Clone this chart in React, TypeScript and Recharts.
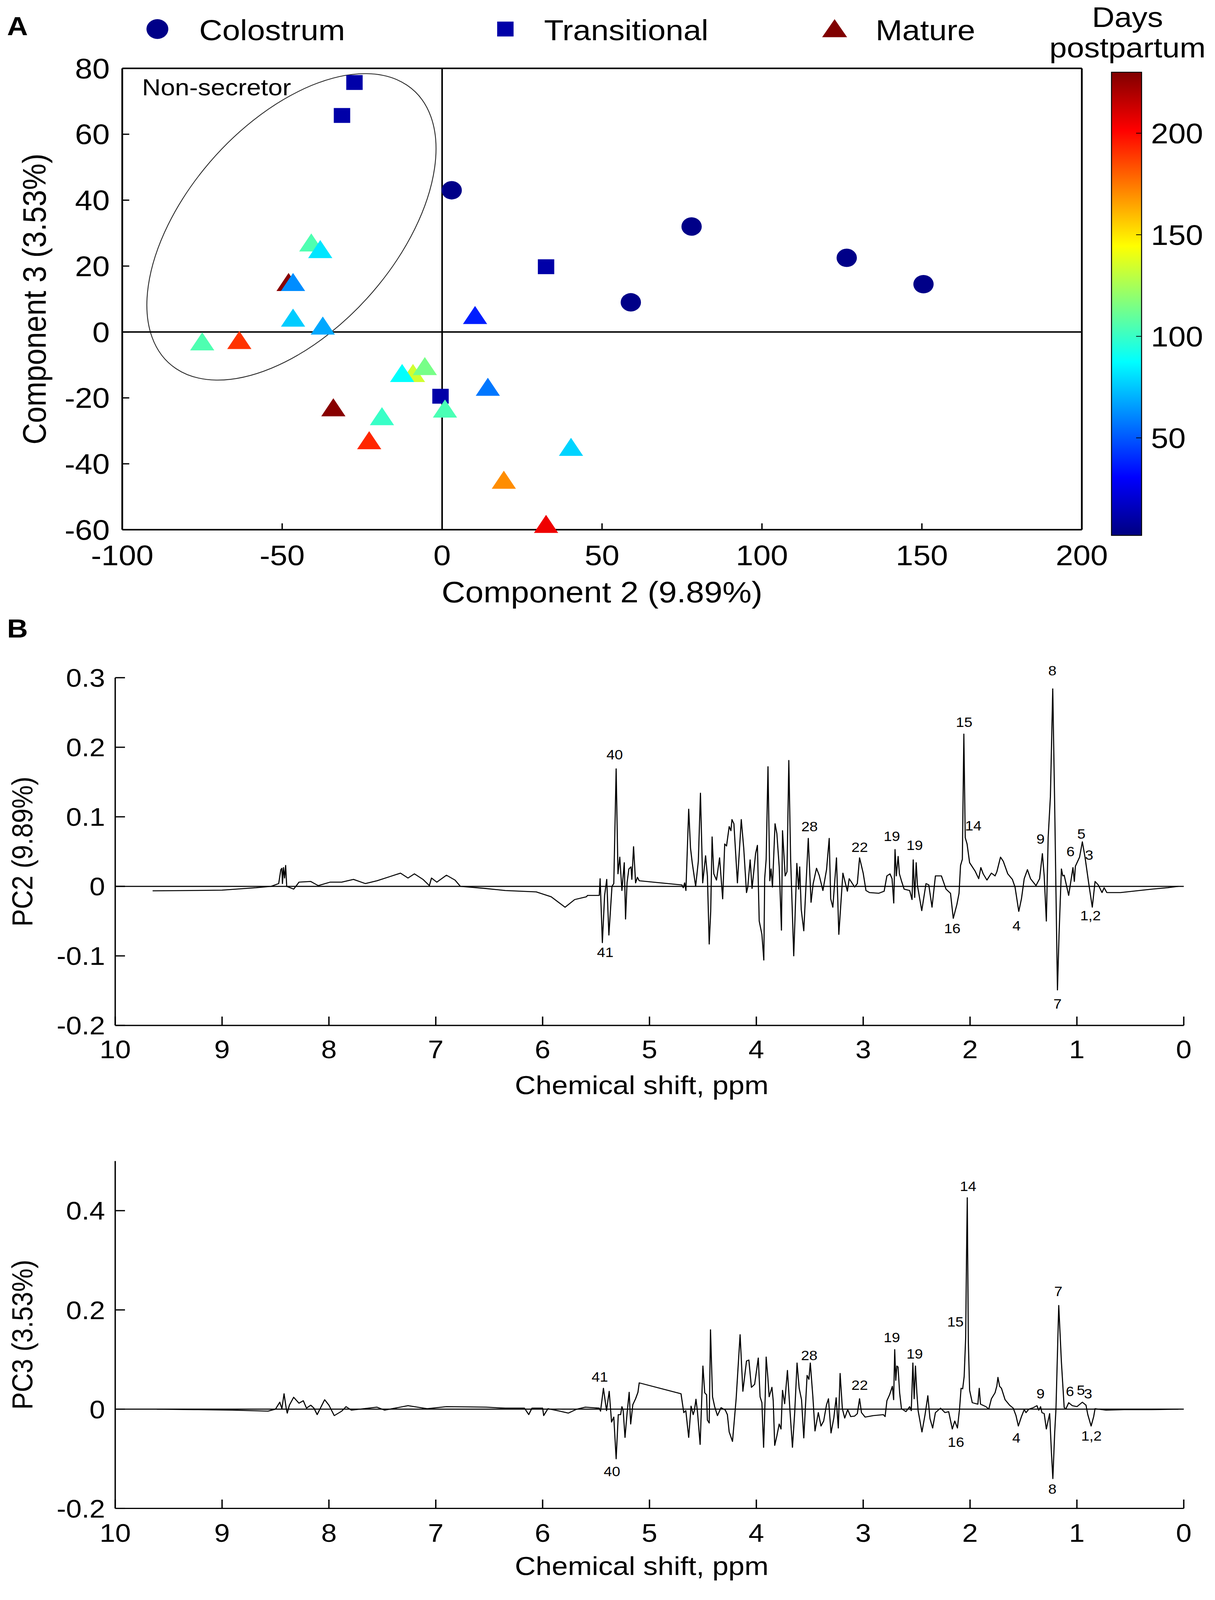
import React from 'react';
import {
  ScatterChart,
  Scatter,
  LineChart,
  Line,
  ComposedChart,
  XAxis,
  YAxis,
  ReferenceLine,
  ReferenceArea,
  ReferenceDot,
} from 'recharts';

const FONT = '"Liberation Sans", Arial, Helvetica, sans-serif';

// the photographed viewport is shorter than the figure, so the figure is squeezed to fit
const FIG_W = 3111;
const FIG_H = 4479;
const VIEW_H = 4060;

// ---- Panel A: PCA scores (component 2 vs component 3) ----
const colostrumPc2 = [3, 59, 78, 126.5, 150.5];
const colostrumPc3 = [43, 9, 32, 22.5, 14.5];
const colostrumDays = [4, 4, 4, 4, 4];

const transitionalPc2 = [-27.4, -31.3, 32.5, -0.5];
const transitionalPc3 = [75.7, 65.7, 19.8, -19.5];
const transitionalDays = [11, 11, 11, 11];

const maturePc2 = [-40.9, -38.1, -48, -46.6, -46.6, -37.3, -75, -63.4, 10.3, -9.1, -5.4, -12.5, 14.3, -34, -18.8, 0.9, -22.8, 40.3, 19.3, 32.5];
const maturePc3 = [27, 25, 15, 15, 4.2, 1.8, -3, -2.6, 5, -12.6, -10.5, -12.6, -16.8, -23, -25.7, -23.4, -33, -35, -45, -58.4];
const matureDays = [105, 82, 228, 62, 76, 68, 105, 190, 37, 134, 114, 88, 57, 228, 100, 104, 193, 78, 170, 205];

const DAY_MIN = 2;
const DAY_MAX = 230;
const colorbarTicks = [50, 100, 150, 200];

const pc2Ticks = [-100, -50, 0, 50, 100, 150, 200];
const pc3Ticks = [-60, -40, -20, 0, 20, 40, 60, 80];

// non-secretor ellipse: bounding box in score units and tangent offset ratio
const ellipseX = [-92.3, -1.9];
const ellipseY = [-14.6, 78.4];
const ELLIPSE_TANGENT = 0.51;

// ---- Panel B: loadings ----
const ppmTicks = [0, 1, 2, 3, 4, 5, 6, 7, 8, 9, 10];

const pc2Ppm = [
  9.65, 9.3, 9.0, 8.68, 8.54, 8.47, 8.45, 8.44, 8.435, 8.425, 8.415, 8.405, 8.395, 8.33, 8.28, 8.17, 8.1, 7.99, 7.88, 7.77,
  7.66, 7.55, 7.43, 7.33, 7.26, 7.2, 7.12, 7.06, 7.04, 6.99, 6.9, 6.82, 6.77, 6.54, 6.35, 6.06, 5.92, 5.79, 5.7, 5.59,
  5.58, 5.47, 5.462, 5.441, 5.42, 5.4, 5.38, 5.351, 5.334, 5.312, 5.295, 5.278, 5.258, 5.236, 5.224, 5.21, 5.193, 5.173, 5.165, 5.149,
  5.13, 5.113, 5.096, 4.696, 4.684, 4.671, 4.659, 4.633, 4.616, 4.6, 4.568, 4.543, 4.523, 4.502, 4.475, 4.458, 4.441, 4.427, 4.414, 4.398,
  4.373, 4.344, 4.315, 4.296, 4.279, 4.254, 4.238, 4.228, 4.21, 4.177, 4.141, 4.118, 4.092, 4.08, 4.058, 4.04, 4.007, 3.99, 3.973, 3.948,
  3.93, 3.922, 3.908, 3.891, 3.874, 3.862, 3.849, 3.825, 3.808, 3.786, 3.765, 3.755, 3.73, 3.713, 3.696, 3.679, 3.65, 3.621, 3.604, 3.594,
  3.58, 3.556, 3.514, 3.488, 3.468, 3.437, 3.412, 3.377, 3.343, 3.318, 3.304, 3.284, 3.25, 3.228, 3.19, 3.148, 3.131, 3.08, 3.055, 3.034,
  3.0, 2.974, 2.94, 2.855, 2.804, 2.778, 2.749, 2.73, 2.714, 2.702, 2.69, 2.673, 2.661, 2.642, 2.617, 2.565, 2.543, 2.532, 2.518, 2.504,
  2.492, 2.452, 2.412, 2.386, 2.356, 2.324, 2.268, 2.225, 2.183, 2.157, 2.123, 2.103, 2.089, 2.072, 2.058, 2.045, 2.028, 2.004, 1.953, 1.919,
  1.899, 1.877, 1.842, 1.8, 1.766, 1.749, 1.715, 1.689, 1.647, 1.604, 1.579, 1.544, 1.519, 1.493, 1.463, 1.434, 1.383, 1.349, 1.323, 1.306,
  1.286, 1.269, 1.248, 1.226, 1.208, 1.196, 1.182, 1.167, 1.145, 1.132, 1.119, 1.077, 1.037, 1.024, 1.014, 0.975, 0.949, 0.924, 0.89, 0.856,
  0.83, 0.8, 0.765, 0.745, 0.72, 0.592, 0.442, 0.3, 0.15, 0.05,
];
const pc2Loading = [
  -0.0064, -0.006, -0.0055, -0.002, 0, 0.004, 0.024, 0.026, 0.004, 0.027, 0.012, 0.03, 0.0, -0.004, 0.006, 0.007, 0.001, 0.006, 0.006, 0.01,
  0.004, 0.008, 0.014, 0.019, 0.012, 0.018, 0.01, 0.001, 0.012, 0.006, 0.016, 0.009, 0.0, -0.003, -0.006, -0.008, -0.015, -0.03, -0.019, -0.015,
  -0.013, -0.013, 0.011, -0.081, -0.013, 0.01, -0.07, 0.0, 0.004, 0.169, 0.018, 0.042, -0.006, 0.034, -0.047, 0.005, 0.025, 0.028, 0.01, 0.057,
  0.005, 0.013, 0.008, 0.002, -0.002, 0.005, -0.006, 0.111, 0.055, 0.034, 0.0, 0.036, 0.134, 0.005, 0.044, 0.015, -0.083, -0.036, 0.071, 0.018,
  0.009, 0.041, -0.018, 0.061, 0.058, 0.086, 0.08, 0.096, 0.09, 0.005, 0.096, 0.055, -0.009, -0.001, 0.038, -0.003, 0.047, 0.059, -0.05, -0.069,
  -0.106, 0.011, 0.039, 0.172, 0.008, 0.025, -0.001, 0.09, 0.076, 0.028, -0.063, 0.08, 0.015, 0.021, 0.181, 0.039, -0.1, 0.033, -0.004, 0.028,
  -0.033, -0.064, 0.069, -0.023, 0.004, 0.026, 0.016, -0.006, 0.024, 0.069, -0.018, -0.03, 0.041, -0.069, 0.019, -0.007, 0.011, -0.001, 0.004, 0.041,
  0.019, -0.006, -0.009, -0.01, -0.007, 0.015, 0.018, 0.011, -0.024, 0.053, 0.015, 0.043, 0.018, 0.008, -0.004, -0.006, -0.019, 0.038, -0.016, 0.034,
  0.001, -0.035, 0.004, 0.002, -0.03, 0.015, 0.015, -0.004, -0.01, -0.046, -0.026, -0.01, 0.03, 0.039, 0.219, 0.07, 0.061, 0.034, 0.022, 0.011,
  0.027, 0.018, 0.009, 0.019, 0.015, 0.021, 0.042, 0.036, 0.018, 0.01, -0.001, -0.036, -0.018, 0.011, 0.024, 0.011, 0.001, 0.011, 0.047, 0.015,
  -0.05, 0.07, 0.129, 0.284, 0.117, -0.007, -0.149, -0.069, 0.025, 0.015, 0.016, -0.013, 0.027, 0.007, 0.029, 0.042, 0.064, 0.042, 0.005, -0.03,
  0.007, 0.002, -0.009, -0.002, -0.009, -0.009, -0.0065, -0.004, -0.002, 0.0,
];

const pc3Ppm = [
  9.61, 9.26, 8.9, 8.57, 8.5, 8.46, 8.44, 8.42, 8.4, 8.39, 8.37, 8.33, 8.28, 8.24, 8.21, 8.17, 8.14, 8.11, 8.04, 8.0,
  7.95, 7.88, 7.84, 7.79, 7.55, 7.48, 7.26, 7.08, 6.9, 6.53, 6.35, 6.17, 6.13, 6.1, 6.0, 5.99, 5.95, 5.84, 5.76, 5.68,
  5.6, 5.47, 5.458, 5.431, 5.402, 5.377, 5.355, 5.334, 5.312, 5.292, 5.27, 5.258, 5.246, 5.229, 5.21, 5.19, 5.176, 5.156, 5.13, 5.108,
  5.096, 4.705, 4.679, 4.66, 4.633, 4.611, 4.591, 4.58, 4.565, 4.551, 4.526, 4.5, 4.483, 4.466, 4.458, 4.441, 4.429, 4.41, 4.39, 4.364,
  4.33, 4.29, 4.271, 4.254, 4.223, 4.189, 4.152, 4.126, 4.092, 4.07, 4.046, 4.016, 3.982, 3.965, 3.948, 3.932, 3.917, 3.908, 3.893, 3.88,
  3.854, 3.842, 3.828, 3.808, 3.786, 3.769, 3.755, 3.735, 3.709, 3.684, 3.662, 3.641, 3.619, 3.599, 3.577, 3.556, 3.525, 3.508, 3.495, 3.471,
  3.451, 3.42, 3.395, 3.37, 3.343, 3.325, 3.301, 3.275, 3.253, 3.233, 3.216, 3.195, 3.173, 3.145, 3.117, 3.08, 3.055, 3.034, 3.016, 2.982,
  2.906, 2.812, 2.795, 2.778, 2.753, 2.727, 2.715, 2.705, 2.695, 2.685, 2.674, 2.659, 2.642, 2.6, 2.565, 2.55, 2.535, 2.523, 2.511, 2.498,
  2.486, 2.45, 2.421, 2.395, 2.375, 2.35, 2.324, 2.276, 2.234, 2.2, 2.166, 2.143, 2.118, 2.098, 2.084, 2.069, 2.055, 2.041, 2.033, 2.026,
  2.016, 2.004, 1.979, 1.927, 1.914, 1.902, 1.851, 1.825, 1.8, 1.766, 1.749, 1.739, 1.723, 1.706, 1.672, 1.63, 1.596, 1.57, 1.548, 1.519,
  1.493, 1.476, 1.45, 1.408, 1.374, 1.357, 1.34, 1.327, 1.306, 1.286, 1.255, 1.238, 1.225, 1.208, 1.196, 1.17, 1.145, 1.119, 1.102, 1.077,
  1.043, 1.0, 0.949, 0.915, 0.898, 0.867, 0.843, 0.83, 0.728, 0.558, 0.3, 0.05,
];
const pc3Loading = [
  0, -0.001, -0.002, -0.004, 0.0, 0.014, 0.001, 0.031, 0.002, -0.008, 0.008, 0.024, 0.012, 0.017, 0.002, 0.008, 0.002, -0.011, 0.019, 0.008,
  -0.013, -0.004, 0.005, -0.002, 0.004, -0.002, 0.007, 0.001, 0.005, 0.004, 0.002, 0.002, -0.011, 0.002, 0.002, -0.013, 0.001, -0.004, -0.008, 0.0,
  0.004, 0.002, -0.004, 0.042, -0.003, 0.036, -0.026, -0.016, -0.1, -0.011, -0.011, 0.005, -0.003, -0.057, -0.009, 0.034, -0.03, 0.009, 0.021, 0.034,
  0.053, 0.031, -0.007, -0.003, -0.057, 0.006, -0.011, -0.003, 0.02, -0.005, -0.071, 0.087, 0.033, 0.029, -0.022, -0.028, 0.16, 0.025, 0.005, -0.013,
  0.003, -0.002, -0.011, -0.046, -0.065, 0.021, 0.15, 0.036, 0.097, 0.099, 0.044, 0.05, 0.103, 0.025, 0.013, -0.077, 0.025, 0.105, 0.066, 0.025,
  0.044, 0.017, -0.073, -0.054, -0.03, -0.04, 0.038, 0.011, 0.078, -0.007, -0.077, -0.007, 0.093, 0.042, 0.019, -0.058, 0.068, 0.06, 0.093, 0.025,
  -0.044, -0.007, -0.034, -0.024, 0.009, 0.021, -0.048, -0.018, 0.023, -0.038, 0.072, 0.001, -0.018, -0.001, -0.015, -0.014, -0.009, 0.021, -0.007, -0.016,
  -0.013, -0.011, -0.015, 0.017, 0.029, 0.046, 0.019, 0.12, 0.058, 0.087, 0.085, 0.033, 0.001, -0.005, 0.005, -0.003, 0.093, 0.021, 0.087, 0.034,
  -0.003, -0.046, -0.011, 0.027, -0.019, -0.038, -0.007, 0.002, -0.007, -0.005, -0.04, -0.024, -0.038, 0.001, 0.042, 0.041, 0.066, 0.144, 0.307, 0.426,
  0.136, 0.038, 0.013, 0.01, 0.042, 0.01, 0.005, 0.0, 0.021, 0.033, 0.047, 0.064, 0.046, 0.042, 0.019, 0.008, 0.002, -0.013, -0.034, -0.015,
  -0.001, -0.007, 0.0, 0.003, 0.007, -0.002, 0.005, -0.007, -0.009, -0.04, -0.009, -0.089, -0.14, -0.048, 0.0, 0.209, 0.095, 0.003, 0.001, 0.013,
  0.007, 0.005, 0.014, 0.008, -0.011, -0.034, -0.015, 0.001, -0.002, -0.001, -0.001, 0.0,
];

// peak assignments (number and where the label sits)
const pc2PeakText = ['40', '41', '28', '22', '19', '19', '15', '14', '16', '9', '8', '7', '4', '6', '5', '3', '1,2'];
const pc2PeakPpm = [5.326, 5.414, 3.502, 3.033, 2.732, 2.518, 2.055, 1.97, 2.166, 1.34, 1.23, 1.181, 1.565, 1.06, 0.958, 0.885, 0.873];
const pc2PeakVal = [0.189, -0.095, 0.086, 0.056, 0.072, 0.059, 0.236, 0.087, -0.061, 0.068, 0.31, -0.169, -0.057, 0.05, 0.075, 0.045, -0.042];

const pc3PeakText = ['41', '40', '28', '22', '19', '19', '15', '14', '16', '4', '9', '8', '7', '6', '5', '3', '1,2'];
const pc3PeakPpm = [5.465, 5.351, 3.505, 3.033, 2.732, 2.518, 2.137, 2.018, 2.132, 1.567, 1.34, 1.23, 1.174, 1.065, 0.963, 0.895, 0.864];
const pc3PeakVal = [0.065, -0.126, 0.108, 0.048, 0.144, 0.111, 0.176, 0.449, -0.067, -0.058, 0.031, -0.161, 0.237, 0.036, 0.038, 0.031, -0.054];

// MATLAB jet colormap
function jet(t: number) {
  const c = (v: number) => Math.round(255 * Math.max(0, Math.min(1, v)));
  const r = c(Math.min(4 * t - 1.5, -4 * t + 4.5));
  const g = c(Math.min(4 * t - 0.5, -4 * t + 3.5));
  const b = c(Math.min(4 * t + 0.5, -4 * t + 2.5));
  return `rgb(${r},${g},${b})`;
}
const dayColor = (d: number) => jet((d - DAY_MIN) / (DAY_MAX - DAY_MIN));

const toPoints = (xs: number[], ys: number[], days: number[]) =>
  xs.map((x, i) => ({ x, y: ys[i], days: days[i] }));

const colostrumData = toPoints(colostrumPc2, colostrumPc3, colostrumDays);
const transitionalData = toPoints(transitionalPc2, transitionalPc3, transitionalDays);
const matureData = toPoints(maturePc2, maturePc3, matureDays);

const pc2Data = pc2Ppm.map((ppm, i) => ({ ppm, loading: pc2Loading[i] }));
const pc3Data = pc3Ppm.map((ppm, i) => ({ ppm, loading: pc3Loading[i] }));

const CircleMark = (p: any) => <circle cx={p.cx} cy={p.cy} r={26} fill={dayColor(p.payload.days)} />;
const SquareMark = (p: any) => (
  <rect x={p.cx - 21} y={p.cy - 21} width={42} height={42} fill={dayColor(p.payload.days)} />
);
const TriangleMark = (p: any) => (
  <polygon
    points={`${p.cx},${p.cy - 27} ${p.cx - 31},${p.cy + 24} ${p.cx + 31},${p.cy + 24}`}
    fill={dayColor(p.payload.days)}
  />
);

// rotated ellipse fitted inside the reference area box
const EllipseShape = (p: any) => {
  const W = Math.abs(p.width) / 2;
  const H = Math.abs(p.height) / 2;
  const cx = p.x + W;
  const cy = p.y + H;
  const q = -ELLIPSE_TANGENT * W * H;
  const P = W * W;
  const R = H * H;
  const disc = Math.sqrt(((P - R) / 2) ** 2 + q * q);
  const a = Math.sqrt((P + R) / 2 + disc);
  const b = Math.sqrt((P + R) / 2 - disc);
  const ang = (0.5 * Math.atan2(2 * q, P - R) * 180) / Math.PI;
  return (
    <ellipse cx={cx} cy={cy} rx={a} ry={b} transform={`rotate(${ang} ${cx} ${cy})`} fill="none" stroke="#222" strokeWidth={2.2} />
  );
};

const axisLine = { stroke: '#000', strokeWidth: 4.5 };
const tickLine = { stroke: '#000', strokeWidth: 3.5 };

function ScorePlot() {
  return (
    <ScatterChart width={3111} height={1750} margin={{ top: 0, right: 0, bottom: 0, left: 0 }}>
      <XAxis
        type="number"
        dataKey="x"
        domain={[-100, 200]}
        ticks={pc2Ticks}
        height={254}
        tickSize={-18}
        tickMargin={62}
        axisLine={axisLine}
        tickLine={tickLine}
        tick={{ fontSize: 80, fill: '#000' }}
        label={{ value: 'Component 2 (9.89%)', position: 'insideTop', offset: 146, fontSize: 84, fill: '#000' }}
      />
      <XAxis
        xAxisId="top"
        orientation="top"
        type="number"
        dataKey="x"
        domain={[-100, 200]}
        ticks={pc2Ticks}
        height={193}
        tickSize={-18}
        tick={false}
        axisLine={axisLine}
        tickLine={tickLine}
      />
      <YAxis
        type="number"
        dataKey="y"
        domain={[-60, 80]}
        ticks={pc3Ticks}
        width={313}
        tickSize={-18}
        tickMargin={50}
        axisLine={axisLine}
        tickLine={tickLine}
        tick={{ fontSize: 80, fill: '#000' }}
        label={{
          value: 'Component 3 (3.53%)',
          angle: -90,
          position: 'insideLeft',
          offset: 87,
          fontSize: 84,
          fill: '#000',
          style: { textAnchor: 'middle' },
        }}
      />
      <YAxis
        yAxisId="right"
        orientation="right"
        type="number"
        dataKey="y"
        domain={[-60, 80]}
        ticks={pc3Ticks}
        width={341}
        tickSize={-18}
        tick={false}
        axisLine={axisLine}
        tickLine={tickLine}
      />
      <ReferenceLine x={0} stroke="#000" strokeWidth={4} />
      <ReferenceLine y={0} stroke="#000" strokeWidth={4} />
      <ReferenceArea x1={ellipseX[0]} x2={ellipseX[1]} y1={ellipseY[0]} y2={ellipseY[1]} shape={EllipseShape} />
      <ReferenceDot
        x={-93.8}
        y={71.8}
        ifOverflow="visible"
        shape={(p: any) => (
          <text x={p.cx} y={p.cy} fontSize={66} fill="#000">
            Non-secretor
          </text>
        )}
      />
      {/* same domains on both axis pairs, so the colostrum series also drives the box axes */}
      <Scatter
        name="Colostrum"
        xAxisId="top"
        yAxisId="right"
        data={colostrumData}
        shape={CircleMark}
        isAnimationActive={false}
      />
      <Scatter name="Transitional" data={transitionalData} shape={SquareMark} isAnimationActive={false} />
      <Scatter name="Mature" data={matureData} shape={TriangleMark} isAnimationActive={false} />
    </ScatterChart>
  );
}

const jetStops = [0, 0.125, 0.375, 0.625, 0.875, 1];
const barTickLine = { stroke: '#000', strokeWidth: 2 };

function ColorBar() {
  const data = [
    { x: 0, d: DAY_MIN },
    { x: 1, d: DAY_MAX },
  ];
  return (
    <ComposedChart width={300} height={1700} data={data} margin={{ top: 204, right: 0, bottom: 188, left: 0 }}>
      <defs>
        <linearGradient id="jetBar" x1="0" y1="1" x2="0" y2="0">
          {jetStops.map((t) => (
            <stop key={t} offset={t} stopColor={jet(t)} />
          ))}
        </linearGradient>
      </defs>
      <XAxis hide type="number" dataKey="x" domain={[0, 1]} />
      <ReferenceArea x1={0} x2={1} y1={DAY_MIN} y2={DAY_MAX} fill="url(#jetBar)" fillOpacity={1} stroke="#000" strokeWidth={2.5} />
      <Line dataKey="d" stroke="none" dot={false} isAnimationActive={false} />
      <Line yAxisId="left" dataKey="d" stroke="none" dot={false} isAnimationActive={false} />
      <YAxis
        yAxisId="left"
        orientation="left"
        type="number"
        domain={[DAY_MIN, DAY_MAX]}
        ticks={colorbarTicks}
        width={46}
        tickSize={-14}
        tick={false}
        axisLine={false}
        tickLine={barTickLine}
      />
      <YAxis
        orientation="right"
        type="number"
        domain={[DAY_MIN, DAY_MAX]}
        ticks={colorbarTicks}
        width={177}
        tickSize={-14}
        tickMargin={38}
        axisLine={false}
        tickLine={barTickLine}
        tick={{ fontSize: 80, fill: '#000', textAnchor: 'start' }}
      />
    </ComposedChart>
  );
}

interface SpectrumProps {
  data: { ppm: number; loading: number }[];
  height: number;
  marginTop: number;
  xAxisHeight: number;
  domain: [number, number];
  ticks: number[];
  yLabel: string;
  xTickMargin: number;
  titleOffset: number;
  peakText: string[];
  peakPpm: number[];
  peakVal: number[];
}

function Spectrum(props: SpectrumProps) {
  return (
    <LineChart
      width={3111}
      height={props.height}
      data={props.data}
      margin={{ top: props.marginTop, right: 80, bottom: 0, left: 0 }}
    >
      <XAxis
        type="number"
        dataKey="ppm"
        domain={[0, 10]}
        reversed
        ticks={ppmTicks}
        height={props.xAxisHeight}
        tickSize={-25}
        tickMargin={props.xTickMargin}
        axisLine={{ stroke: '#000', strokeWidth: 3.5 }}
        tickLine={tickLine}
        tick={{ fontSize: 72, fill: '#000' }}
        label={{
          value: 'Chemical shift, ppm',
          position: 'insideTop',
          offset: props.titleOffset,
          dx: -20,
          fontSize: 74,
          fill: '#000',
        }}
      />
      <YAxis
        type="number"
        domain={props.domain}
        ticks={props.ticks}
        width={295}
        tickSize={-25}
        tickMargin={51}
        axisLine={{ stroke: '#000', strokeWidth: 3.5 }}
        tickLine={tickLine}
        tick={{ fontSize: 72, fill: '#000' }}
        label={{
          value: props.yLabel,
          angle: -90,
          position: 'insideLeft',
          offset: 57,
          fontSize: 74,
          fill: '#000',
          style: { textAnchor: 'middle' },
        }}
      />
      <ReferenceLine y={0} stroke="#000" strokeWidth={3} />
      <Line
        type="linear"
        dataKey="loading"
        stroke="#000"
        strokeWidth={2.8}
        strokeLinejoin="round"
        dot={false}
        isAnimationActive={false}
      />
      {props.peakText.map((t, i) => (
        <ReferenceDot
          key={i}
          x={props.peakPpm[i]}
          y={props.peakVal[i]}
          ifOverflow="visible"
          shape={(p: any) => (
            <text x={p.cx} y={p.cy} fontSize={38} fill="#000" textAnchor="middle" dominantBaseline="central">
              {t}
            </text>
          )}
        />
      ))}
    </LineChart>
  );
}

export default function App() {
  return (
    <div
      style={{
        position: 'relative',
        margin: -8,
        width: FIG_W,
        height: VIEW_H,
        background: '#fff',
        overflow: 'hidden',
      }}
    >
      <div
        style={{
          position: 'absolute',
          left: 0,
          top: 0,
          width: FIG_W,
          height: FIG_H,
          fontFamily: FONT,
          transform: `scale(1, ${VIEW_H / FIG_H})`,
          transformOrigin: '0 0',
        }}
      >
        <div style={{ position: 'absolute', left: 0, top: 0 }}>
          <ScorePlot />
        </div>
        {/* colour bar box spans x 2846-2923 */}
        <div style={{ position: 'absolute', left: 2800, top: 0 }}>
          <ColorBar />
        </div>
        <div style={{ position: 'absolute', left: 0, top: 1750 }}>
          <Spectrum
            data={pc2Data}
            height={1380}
            marginTop={164}
            xAxisHeight={234}
            domain={[-0.2, 0.3]}
            ticks={[-0.2, -0.1, 0, 0.1, 0.2, 0.3]}
            yLabel="PC2 (9.89%)"
            xTickMargin={66}
            titleOffset={141}
            peakText={pc2PeakText}
            peakPpm={pc2PeakPpm}
            peakVal={pc2PeakVal}
          />
        </div>
        <div style={{ position: 'absolute', left: 0, top: 3150 }}>
          <Spectrum
            data={pc3Data}
            height={1329}
            marginTop={129}
            xAxisHeight={219}
            domain={[-0.2, 0.5]}
            ticks={[-0.2, 0, 0.2, 0.4]}
            yLabel="PC3 (3.53%)"
            xTickMargin={68}
            titleOffset={136}
            peakText={pc3PeakText}
            peakPpm={pc3PeakPpm}
            peakVal={pc3PeakVal}
          />
        </div>
        {/* panel letters, group legend and colour bar title */}
        <svg
          width={3111}
          height={1900}
          style={{ position: 'absolute', left: 0, top: 0, pointerEvents: 'none' }}
          fontFamily={FONT}
        >
          <text x={18} y={99} fontSize={74} fontWeight="bold" fill="#000">A</text>
          <text x={18} y={1800} fontSize={74} fontWeight="bold" fill="#000">B</text>
          <circle cx={403} cy={82} r={28} fill={dayColor(colostrumDays[0])} />
          <text x={510} y={114} fontSize={82} fill="#000">Colostrum</text>
          <rect x={1273} y={61} width={42} height={42} fill={dayColor(transitionalDays[0])} />
          <text x={1393} y={114} fontSize={82} fill="#000">Transitional</text>
          <polygon points="2137,54 2105,105 2169,105" fill={dayColor(DAY_MAX)} />
          <text x={2242} y={114} fontSize={82} fill="#000">Mature</text>
          <text x={2887} y={76} fontSize={80} fill="#000" textAnchor="middle">Days</text>
          <text x={2887} y={162} fontSize={80} fill="#000" textAnchor="middle">postpartum</text>
        </svg>
      </div>
    </div>
  );
}
